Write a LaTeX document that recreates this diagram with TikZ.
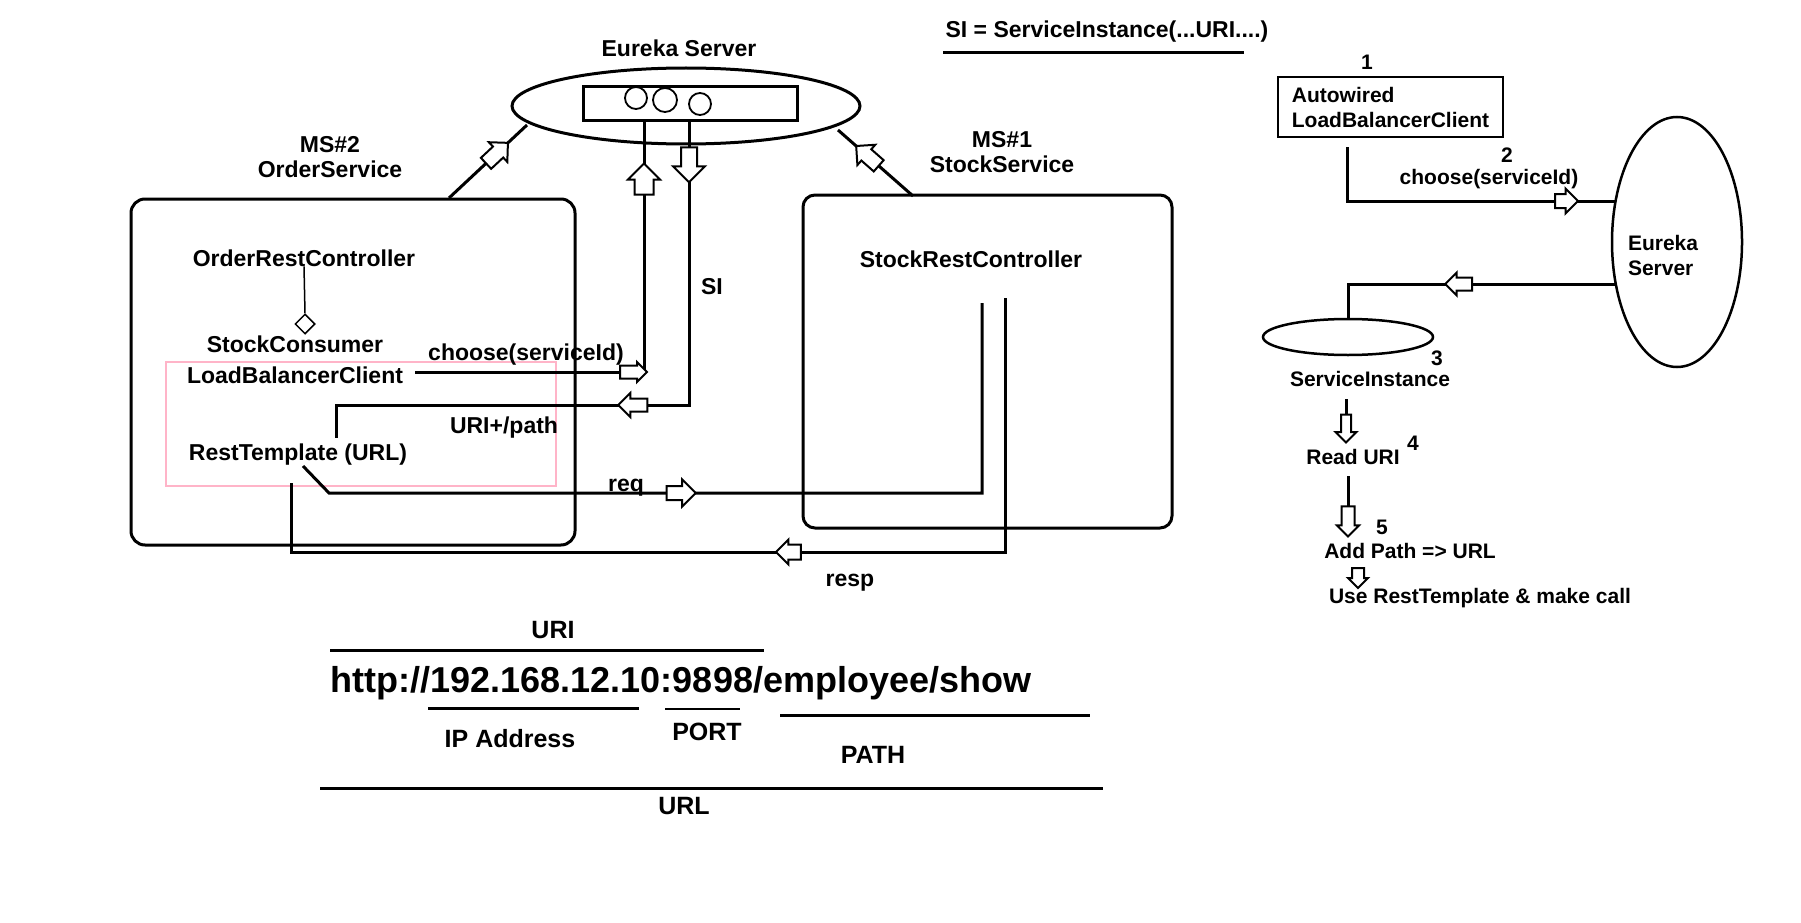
\documentclass[tikz,border=0pt]{standalone}
\usepackage{fontspec}
\setmainfont{Liberation Sans}
\usetikzlibrary{positioning,shapes.geometric,shapes.arrows}
\definecolor{lbpink}{HTML}{FFB4C8}
\tikzset{
  lab/.style     ={font=\fontsize{23}{25}\selectfont\bfseries,inner sep=0pt,text height=16.5pt,text depth=0pt},
  pair/.style    ={font=\fontsize{23}{25}\selectfont\bfseries,inner sep=0pt,align=center},
  note/.style    ={font=\fontsize{21}{25}\selectfont\bfseries,inner sep=0pt,text height=15pt,text depth=0pt},
  notepair/.style={font=\fontsize{21}{25}\selectfont\bfseries,inner sep=0pt,align=left},
  part/.style    ={font=\fontsize{25}{28}\selectfont\bfseries,inner sep=0pt,text height=18pt,text depth=0pt},
  urlbig/.style  ={font=\fontsize{36}{40}\selectfont\bfseries,inner sep=0pt,text height=26pt,text depth=0pt},
  msbox/.style   ={draw,line width=3pt,rounded corners=14pt,inner sep=0pt},
  inst/.style    ={circle,draw,line width=1.8pt,inner sep=0pt},
  conn/.style    ={line width=3pt},
  hair/.style    ={line width=1.5pt},
  blockarr/.style={single arrow,draw,fill=white,line width=2pt,inner xsep=0pt,inner ysep=6pt,minimum height=28pt,single arrow head extend=5.5pt},
  along/.style   ={blockarr,sloped,allow upside down},
}

\begin{document}
\begin{tikzpicture}[x=1pt,y=-1pt]
  \useasboundingbox (0,0) rectangle (1801,923);
  % discovery server with its registry
  \node[ellipse,draw,line width=3pt,minimum width=348pt,minimum height=76pt] (eureka) at (686,106) {};
  \node[lab] (eurekalbl) at (679,48) {Eureka Server};
  \node[draw,line width=3pt,minimum width=214pt,minimum height=34pt,inner sep=0pt] (reg) at (690,104) {};
  \node[inst,minimum size=22pt] (inst1) at (636,98) {};
  \node[inst,minimum size=24pt] (inst2) at (665,100) {};
  \node[inst,minimum size=22pt] (inst3) at (700,104) {};
  \node[lab] (sidef) at (1107,29) {SI = ServiceInstance(...URI....)};
  \draw[conn] (943,53) -- (1244,53);

  % the two services
  \node[msbox,minimum width=444pt,minimum height=346pt] (order) at (353,372) {};
  \node[pair] (ms2) at (330,157.5) {MS\#2\\OrderService};
  \node[msbox,rounded corners=12pt,minimum width=369pt,minimum height=333pt] (stock) at (987.5,361.5) {};
  \node[pair] (ms1) at (1002,152.5) {MS\#1\\StockService};

  \node[lab] (orc) at (304,258) {OrderRestController};
  \node[diamond,draw,line width=1.5pt,aspect=1,minimum size=20pt,inner sep=0pt] (agg) at (305,324) {};
  \node[lab] (sc) at (295,344) {StockConsumer};
  \node[draw=lbpink,line width=1.5pt,minimum width=390pt,minimum height=124pt,inner sep=0pt] (lbframe) at (361,424) {};
  \node[lab] (lbc) at (295,375) {LoadBalancerClient};
  \node[lab] (chs) at (526,352) {choose(serviceId)};
  \node[lab] (uripath) at (504,425) {URI+/path};
  \node[lab] (rt) at (298,452) {RestTemplate (URL)};
  \node[lab] (si) at (712,286) {SI};
  \node[lab] (req) at (626,483) {req};
  \node[lab] (resp) at (850,578) {resp};
  \node[lab] (src) at (971,259) {StockRestController};

  \coordinate (regup) at (644,121);
  \coordinate (regdown) at (689,121);
  \coordinate (lbcout) at (415,372);
  \coordinate (lbcturn) at (644,372);
  \coordinate (siturn) at (689,405);
  \coordinate (uriturn) at (336,405);
  \coordinate (rtin) at (336,438);
  \coordinate (ordertop) at (449,198);
  \coordinate (eurekaw) at (527,125);
  \coordinate (stocktop) at (913,196);
  \coordinate (eurekae) at (838,130);
  \coordinate (rtout) at (303,466);
  \coordinate (reqturn) at (329,493);
  \coordinate (reqcorner) at (982,493);
  \coordinate (srcin) at (982,303);
  \coordinate (srcout) at (1005,298);
  \coordinate (respcorner) at (1005,552);
  \coordinate (respturn) at (291,552);
  \coordinate (rtback) at (291,483);

  \draw[hair] (orc.south) -- (agg.north);
  \draw[conn] (ordertop) -- node[along,inner ysep=6.5pt,single arrow head extend=6pt,minimum height=30pt,pos=0.58]{} (eurekaw);
  \draw[conn] (stocktop) -- node[along,inner ysep=6.5pt,single arrow head extend=6pt,minimum height=30pt,pos=0.57]{} (eurekae);
  \draw[conn] (lbcout) -- node[along,inner ysep=5.5pt,single arrow head extend=3.5pt,minimum height=27pt,pos=0.94]{} (lbcturn)
    -- node[along,inner ysep=8.5pt,single arrow head extend=6.5pt,minimum height=31pt,pos=0.75]{} (regup);
  \draw[conn] (regdown) -- node[along,inner ysep=7pt,single arrow head extend=8pt,minimum height=35pt,pos=0.14]{} (siturn)
    -- node[along,inner ysep=5.5pt,minimum height=29pt,pos=0.15]{} (uriturn) -- (rtin);
  \draw[conn] (rtout) -- (reqturn) -- node[along,inner ysep=6pt,single arrow head extend=6.5pt,minimum height=29pt,pos=0.534]{} (reqcorner) -- (srcin);
  \draw[conn] (srcout) -- (respcorner) -- node[along,inner ysep=6.5pt,single arrow head extend=5pt,minimum height=25pt,pos=0.298]{} (respturn) -- (rtback);

  % the steps on the right
  \node[note] (n1) at (1367,62) {1};
  \node[draw,line width=2pt,minimum width=225pt,minimum height=60pt,notepair] (aw) at (1390.5,107) {Autowired\\LoadBalancerClient};
  \node[ellipse,draw,line width=2.5pt,minimum width=130pt,minimum height=250pt] (es) at (1677,242) {};
  \node[notepair] (eslbl) at (1663,255.5) {Eureka\\Server};
  \node[note] (n2) at (1507,155) {2};
  \node[note] (chs2) at (1489,177) {choose(serviceId)};
  \node[ellipse,draw,line width=2.5pt,minimum width=170pt,minimum height=36pt] (sinst) at (1348,337) {};
  \node[note] (n3) at (1437,358) {3};
  \node[note] (silbl) at (1370,379) {ServiceInstance};
  \node[note] (n4) at (1413,443) {4};
  \node[note] (readuri) at (1353,457) {Read URI};
  \node[note] (n5) at (1382,527) {5};
  \node[note] (addp) at (1410,551) {Add Path => URL};
  \node[blockarr,rotate=-90,inner ysep=5pt,single arrow head extend=4pt,minimum height=20pt] (s5arrow) at (1358,575) {};
  \node[note] (usert) at (1480,596) {Use RestTemplate \& make call};

  \coordinate (awout) at (1347,147);
  \coordinate (awturn) at (1347,201);
  \coordinate (esin) at (1615,201);
  \coordinate (esout) at (1616,284);
  \coordinate (sturn) at (1348,284);
  \coordinate (s3out) at (1346,399);
  \coordinate (s3in) at (1346,440);
  \coordinate (s4out) at (1348,476);
  \coordinate (s4in) at (1348,533);

  \draw[conn] (awout) -- (awturn) -- node[along,inner ysep=6pt,single arrow head extend=5.5pt,minimum height=23pt,pos=0.806]{} (esin);
  \draw[conn] (esout) -- node[along,inner ysep=5.5pt,single arrow head extend=5pt,minimum height=27pt,pos=0.575]{} (sturn) -- (sinst.north);
  \draw[conn] (s3out) -- node[along,inner ysep=4pt,single arrow head extend=5.5pt,minimum height=28pt,pos=0.66]{} (s3in);
  \draw[conn] (s4out) -- node[along,inner ysep=5.5pt,single arrow head extend=4.5pt,minimum height=30pt,pos=0.74]{} (s4in);

  % parts of the address
  \node[part] (urilbl) at (553,629) {URI};
  \draw[conn] (330,650) -- (764,650);
  \node[urlbig] (url) at (681,679) {http://192.168.12.10:9898/employee/show};
  \draw[conn] (428,708) -- (639,708);
  \draw[line width=2pt] (665,709) -- (740,709);
  \draw[conn] (780,715) -- (1090,715);
  \node[part] (ip) at (510,738) {IP Address};
  \node[part] (port) at (707,731) {PORT};
  \node[part] (pathlbl) at (873,754) {PATH};
  \draw[conn] (320,788) -- (1103,788);
  \node[part] (urllbl) at (684,805) {URL};
\end{tikzpicture}
\end{document}
